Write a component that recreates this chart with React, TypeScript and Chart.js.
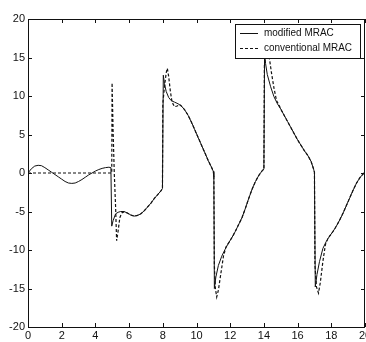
import React, { useEffect, useRef } from 'react';
import { Chart, registerables } from 'chart.js';

Chart.register(...registerables);

const xTickValues = [0, 2, 4, 6, 8, 10, 12, 14, 16, 18, 20];
const yTickValues = [-20, -15, -10, -5, 0, 5, 10, 15, 20];
const seriesLabels = ['modified MRAC', 'conventional MRAC'];

const modifiedT = [0, 0.2, 0.4, 0.6, 0.8, 1.0, 1.2, 1.4, 1.6, 1.8, 2.0, 2.2, 2.4, 2.6, 2.8, 3.0, 3.2, 3.4, 3.6, 3.8, 4.0, 4.2, 4.4, 4.6, 4.8, 4.92, 4.97, 5.05, 5.2, 5.35, 5.5, 5.7, 5.9, 6.1, 6.3, 6.5, 6.7, 6.9, 7.1, 7.3, 7.5, 7.7, 7.9, 7.98, 8.03, 8.1, 8.2, 8.35, 8.5, 8.7, 8.9, 9.1, 9.3, 9.5, 9.7, 9.9, 10.1, 10.3, 10.5, 10.7, 10.9, 11.0, 11.03, 11.06, 11.15, 11.3, 11.5, 11.7, 11.9, 12.1, 12.3, 12.5, 12.7, 12.9, 13.1, 13.3, 13.5, 13.7, 13.9, 14.0, 14.04, 14.1, 14.2, 14.4, 14.6, 14.8, 15.0, 15.2, 15.4, 15.6, 15.8, 16.0, 16.2, 16.4, 16.6, 16.8, 16.95, 17.0, 17.05, 17.15, 17.3, 17.5, 17.7, 17.9, 18.1, 18.3, 18.5, 18.7, 18.9, 19.1, 19.3, 19.5, 19.7, 19.9, 20];
const modifiedV = [0, 0.55, 0.9, 1.0, 0.95, 0.7, 0.4, 0.1, -0.2, -0.5, -0.8, -1.1, -1.3, -1.35, -1.3, -1.1, -0.85, -0.55, -0.25, 0.0, 0.25, 0.45, 0.6, 0.7, 0.75, 0.7, -6.9, -6.2, -5.3, -5.1, -5.0, -5.0, -5.2, -5.45, -5.6, -5.5, -5.3, -4.9, -4.4, -3.9, -3.3, -2.8, -2.3, -2.0, 12.7, 11.6, 10.6, 9.8, 9.4, 9.2, 9.0, 8.7, 8.2, 7.5, 6.6, 5.6, 4.6, 3.6, 2.6, 1.6, 0.7, 0.2, -0.5, -15.0, -13.5, -12.0, -10.8, -9.9, -9.1, -8.4, -7.6, -6.7, -5.8, -4.6, -3.3, -2.1, -1.1, -0.3, 0.3, 0.5, 15.6, 14.2, 12.8, 11.2, 9.9, 9.0, 8.3, 7.5, 6.7, 5.9, 5.1, 4.3, 3.6, 2.9, 2.3, 1.5, 0.5, 0.1, -14.8, -13.2, -11.5, -9.8, -8.9, -8.2, -7.6, -6.9, -6.1, -5.2, -4.2, -3.2, -2.2, -1.3, -0.6, -0.1, 0.2];

const conventionalT = [0, 4.97, 4.99, 5.05, 5.12, 5.2, 5.26, 5.35, 5.45, 5.56, 5.7, 5.9, 6.1, 6.3, 6.5, 6.7, 6.9, 7.1, 7.3, 7.5, 7.7, 7.9, 7.98, 8.0, 8.1, 8.2, 8.27, 8.35, 8.45, 8.55, 8.7, 8.85, 9.0, 9.1, 9.3, 9.5, 9.7, 9.9, 10.1, 10.3, 10.5, 10.7, 10.9, 11.0, 11.03, 11.06, 11.12, 11.2, 11.3, 11.45, 11.6, 11.75, 11.9, 12.1, 12.3, 12.5, 12.7, 12.9, 13.1, 13.3, 13.5, 13.7, 13.9, 14.0, 14.03, 14.12, 14.22, 14.32, 14.45, 14.6, 14.75, 14.9, 15.0, 15.2, 15.4, 15.6, 15.8, 16.0, 16.2, 16.4, 16.6, 16.8, 16.95, 17.0, 17.03, 17.12, 17.24, 17.35, 17.5, 17.65, 17.8, 17.9, 18.1, 18.3, 18.5, 18.7, 18.9, 19.1, 19.3, 19.5, 19.7, 19.9, 20];
const conventionalV = [0, 0, 11.7, 5.5, 0, -4.5, -8.8, -7.5, -5.8, -5.2, -5.05, -5.2, -5.45, -5.6, -5.5, -5.3, -4.9, -4.4, -3.9, -3.3, -2.8, -2.3, -2.0, 9.0, 11.2, 13.0, 13.6, 12.5, 10.6, 9.2, 8.6, 8.7, 8.9, 8.7, 8.2, 7.5, 6.6, 5.6, 4.6, 3.6, 2.6, 1.6, 0.7, 0.2, -0.5, -12.0, -15.0, -16.1, -15.2, -13.0, -10.8, -9.6, -9.1, -8.4, -7.6, -6.7, -5.8, -4.6, -3.3, -2.1, -1.1, -0.3, 0.3, 0.5, 14.0, 15.8, 16.3, 15.0, 13.0, 11.0, 9.4, 8.8, 8.3, 7.5, 6.7, 5.9, 5.1, 4.3, 3.6, 2.9, 2.3, 1.5, 0.5, 0.1, -12.0, -14.8, -15.6, -14.2, -11.5, -9.3, -8.5, -8.2, -7.6, -6.9, -6.1, -5.2, -4.2, -3.2, -2.2, -1.3, -0.6, -0.1, 0.2];

const toPoints = (t: number[], v: number[]) => t.map((x, i) => ({ x, y: v[i] }));

const FONT = '"Liberation Sans", Arial, sans-serif';
const INK = '#111';

const framePlugin = {
  id: 'matlabFrame',
  afterDatasetsDraw(chart: any) {
    const { ctx, chartArea: a, scales } = chart;
    ctx.save();
    ctx.strokeStyle = INK;
    ctx.lineWidth = 1;
    ctx.beginPath();
    ctx.rect(Math.round(a.left) + 0.5, Math.round(a.top) + 0.5, Math.round(a.right - a.left) - 1, Math.round(a.bottom - a.top));
    ctx.stroke();
    const len = 4;
    ctx.beginPath();
    xTickValues.forEach((v) => {
      const px = Math.round(scales.x.getPixelForValue(v)) + 0.5;
      ctx.moveTo(px, a.bottom);
      ctx.lineTo(px, a.bottom - len);
      ctx.moveTo(px, a.top);
      ctx.lineTo(px, a.top + len);
    });
    yTickValues.forEach((v) => {
      const py = Math.round(scales.y.getPixelForValue(v)) + 0.5;
      ctx.moveTo(a.left, py);
      ctx.lineTo(a.left + len, py);
      ctx.moveTo(a.right, py);
      ctx.lineTo(a.right - len, py);
    });
    ctx.stroke();

    // legend box
    const bx = 235, by = 24, bw = 125, bh = 34;
    ctx.fillStyle = '#fff';
    ctx.fillRect(bx, by, bw, bh);
    ctx.strokeRect(bx + 0.5, by + 0.5, bw, bh);
    const rows = [33, 48];
    const dashes = [[], [3, 2]];
    ctx.font = '11.5px ' + FONT;
    const sx = 88 / ctx.measureText(seriesLabels[1]).width;
    rows.forEach((y, i) => {
      ctx.beginPath();
      ctx.setLineDash(dashes[i]);
      ctx.lineWidth = 1;
      ctx.moveTo(240, y + 0.5);
      ctx.lineTo(258, y + 0.5);
      ctx.stroke();
      ctx.setLineDash([]);
      ctx.save();
      ctx.fillStyle = INK;
      ctx.textBaseline = 'middle';
      ctx.textAlign = 'left';
      ctx.translate(264, y);
      ctx.scale(sx, 1);
      ctx.fillText(seriesLabels[i], 0, 0);
      ctx.restore();
    });
    ctx.restore();
  },
};

export default function App() {
  const ref = useRef<HTMLCanvasElement | null>(null);
  useEffect(() => {
    if (!ref.current) return;
    const chart = new Chart(ref.current, {
      type: 'line',
      data: {
        datasets: [
          {
            label: seriesLabels[0],
            data: toPoints(modifiedT, modifiedV),
            borderColor: INK,
            borderWidth: 1,
            pointRadius: 0,
            tension: 0,
            fill: false,
          },
          {
            label: seriesLabels[1],
            data: toPoints(conventionalT, conventionalV),
            borderColor: INK,
            borderWidth: 1.2,
            borderDash: [3, 2],
            pointRadius: 0,
            tension: 0,
            fill: false,
          },
        ],
      },
      options: {
        responsive: false,
        animation: false,
        layout: { padding: { top: 19, right: 15, left: 0, bottom: 0 } },
        plugins: { legend: { display: false }, tooltip: { enabled: false } },
        scales: {
          x: {
            type: 'linear',
            min: 0,
            max: 20,
            afterBuildTicks: (s: any) => { s.ticks = xTickValues.map((v) => ({ value: v })); },
            afterFit: (s: any) => { s.height = 15; },
            grid: { display: false, drawTicks: false },
            border: { display: false },
            ticks: { color: INK, font: { family: FONT, size: 11 }, padding: 2, maxRotation: 0, autoSkip: false },
          },
          y: {
            type: 'linear',
            min: -20,
            max: 20,
            afterBuildTicks: (s: any) => { s.ticks = yTickValues.map((v) => ({ value: v })); },
            afterFit: (s: any) => { s.width = 28; },
            grid: { display: false, drawTicks: false },
            border: { display: false },
            ticks: { color: INK, font: { family: FONT, size: 11 }, padding: 3, autoSkip: false },
          },
        },
      },
      plugins: [framePlugin],
    });
    return () => chart.destroy();
  }, []);
  return (
    <div style={{ position: 'fixed', left: 0, top: 0, width: 366, height: 342, overflow: 'hidden', background: '#fff' }}>
      <canvas ref={ref} width={380} height={342} style={{ display: 'block', width: 380, height: 342 }} />
    </div>
  );
}
